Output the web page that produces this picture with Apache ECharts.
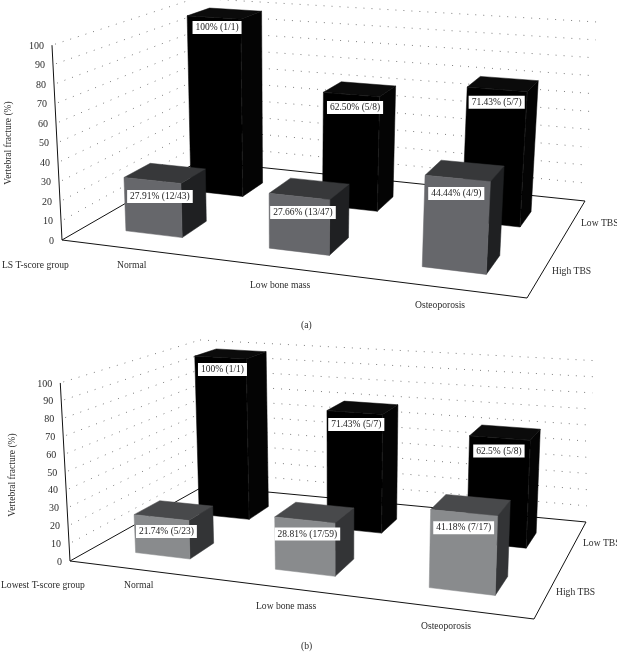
<!DOCTYPE html>
<html><head><meta charset="utf-8">
<style>html,body{margin:0;padding:0;background:#fff}#c{width:617px;height:652px}</style>
<script src="https://cdn.jsdelivr.net/npm/echarts@6/dist/echarts.min.js"></script>
</head><body><div id="c"></div>
<script>
const categories = ['Normal','Low bone mass','Osteoporosis'];
const rows = ['High TBS','Low TBS'];
const ticks = [0,10,20,30,40,50,60,70,80,90,100];
const highA = [27.91,27.66,44.44];
const lowA  = [100,62.5,71.43];
const highB = [21.74,28.81,41.18];
const lowB  = [100,71.43,62.5];
const highLabelsA = ['27.91% (12/43)','27.66% (13/47)','44.44% (4/9)'];
const lowLabelsA  = ['100% (1/1)','62.50% (5/8)','71.43% (5/7)'];
const highLabelsB = ['21.74% (5/23)','28.81% (17/59)','41.18% (7/17)'];
const lowLabelsB  = ['100% (1/1)','71.43% (5/7)','62.5% (5/8)'];

const FONT = '"Liberation Serif", serif';
function homography(q){
  const [p0,p1,p2,p3]=q;
  const dx1=p1[0]-p2[0],dx2=p3[0]-p2[0],sx=p0[0]-p1[0]+p2[0]-p3[0];
  const dy1=p1[1]-p2[1],dy2=p3[1]-p2[1],sy=p0[1]-p1[1]+p2[1]-p3[1];
  const den=dx1*dy2-dx2*dy1;
  const g=(sx*dy2-dx2*sy)/den,h=(dx1*sy-sx*dy1)/den;
  const a=p1[0]-p0[0]+g*p1[0],b=p3[0]-p0[0]+h*p3[0],c=p0[0];
  const d=p1[1]-p0[1]+g*p1[1],e=p3[1]-p0[1]+h*p3[1],f=p0[1];
  return (s,t)=>{const w=g*s+h*t+1;return [(a*s+b*t+c)/w,(d*s+e*t+f)/w];};
}
const panels=[
 {floor:[[62,240],[527,298],[585,201],[199,161]], k:0.405,yH:-241,vp:[288,4640],
  high:highA,low:lowA,hl:highLabelsA,ll:lowLabelsA,uShift:-0.012,
  faces:{front:'#66676b',top:'#37383a',side:'#1f2022'},
  grid:{left:10,top:0,width:300,height:300},
  hd:[[7.5,16],[3.5,16],[-1.5,15]], ld:[[3,10],[3.5,13],[-0.5,13]],
  texts:[['LS T-score group',2,265],['Normal',117,265],['Low bone mass',250,285],['Osteoporosis',415,305],['High TBS',552,271],['Low TBS',581,223],['(a)',301,325]],
  title:[8,143]},
 {floor:[[70,561],[534,619],[586,522],[204,486]], k:0.427,yH:144,vp:[340,5500],
  high:highB,low:lowB,hl:highLabelsB,ll:lowLabelsB,uShift:0.017,
  faces:{front:'#898b8d',top:'#48494b',side:'#333436'},
  grid:{left:10,top:330,width:300,height:300},
  hd:[[5,14],[2.5,14],[-0.5,15]], ld:[[2,12],[1.5,12],[-1,13]],
  texts:[['Lowest T-score group',1,585],['Normal',124,585],['Low bone mass',256,606],['Osteoporosis',421,626],['High TBS',556,592],['Low TBS',583,543],['(b)',301,646]],
  title:[12,475]}
];
const HW=0.2, HD=0.18;           // half footprint of a bar in category / row units
const ROWV=[0.48,1.44];
panels.forEach(p=>{
  const F=homography(p.floor);
  p.proj=(u,v,fr)=>{
    const a=F(u/3,v/2),h=p.k*(a[1]-p.yH)*fr;
    return [a[0]+(a[0]-p.vp[0])/(p.vp[1]-a[1])*h,a[1]-h];
  };
});
function frac(api,val){const y0=api.coord([0,0])[1],y1=api.coord([0,100])[1];return (y0-api.coord([0,val])[1])/(y0-y1);}
function uOf(api,cat,g){return 3*(api.coord([cat,0])[0]-g.left)/g.width;}
function poly(pts,fill,stroke){return {type:'polygon',shape:{points:pts},style:{fill:fill,stroke:stroke||fill,lineWidth:0.5}};}
function line(a,b,style){return {type:'line',shape:{x1:a[0],y1:a[1],x2:b[0],y2:b[1]},style:style};}

function wallSeries(p,i){
  return {type:'custom',xAxisIndex:i,yAxisIndex:i,silent:true,clip:false,z:1,data:ticks.map(t=>[0,t]),
    renderItem(params,api){
      const fr=frac(api,api.value(1)),ch=[],t=api.value(1);
      const a=p.proj(0,0,fr),b=p.proj(0,2,fr),c=p.proj(3,2,fr);
      const dot={stroke:'#7c7c7c',lineWidth:1,lineDash:[1,7],fill:null};
      ch.push({type:'text',style:{text:String(t),x:a[0]-8,y:a[1]+1,align:'right',verticalAlign:'middle',font:'10px '+FONT,fill:'#2b2b2b'}});
      if(t>0){ch.push(line([a[0]+3,a[1]-1],b,dot),line(b,c,dot));}
      return {type:'group',children:ch};
    }};
}
function frameSeries(p,i){
  return {type:'custom',xAxisIndex:i,yAxisIndex:i,silent:true,clip:false,z:2,data:[[0,0]],
    renderItem(params,api){
      const s={stroke:'#111',lineWidth:1,fill:null};
      const o=p.proj(0,0,0),fr=p.proj(3,0,0),br=p.proj(3,2,0),bl=p.proj(0,2,0),top=p.proj(0,0,frac(api,100));
      const ch=[poly([o,fr,br,bl],'#fff','#fff'),line(o,fr,s),line(fr,br,s),line(br,bl,s),line(bl,o,s),line(o,top,s)];
      p.texts.forEach(t=>ch.push({type:'text',style:{text:t[0],x:t[1],y:t[2],verticalAlign:'middle',font:'9.6px '+FONT,fill:'#2b2b2b'}}));
      ch.push({type:'text',x:p.title[0],y:p.title[1],rotation:Math.PI/2,style:{text:'Vertebral fracture (%)',align:'center',verticalAlign:'middle',font:'9.5px '+FONT,fill:'#2b2b2b'}});
      return {type:'group',children:ch};
    }};
}
function barSeries(p,i,vals,labels,row,faces,offs){
  return {type:'custom',xAxisIndex:i,yAxisIndex:i,silent:true,clip:false,z:4-row,
    data:vals.map((v,k)=>[k,v]),
    renderItem(params,api){
      const k=api.value(0),fr=frac(api,api.value(1)),u=uOf(api,k,p.grid)+p.uShift,v=ROWV[row];
      const u0=u-HW,u1=u+HW,v0=v-HD,v1=v+HD;
      const A=p.proj(u0,v0,0),B=p.proj(u1,v0,0),C=p.proj(u1,v1,0);
      const At=p.proj(u0,v0,fr),Bt=p.proj(u1,v0,fr),Ct=p.proj(u1,v1,fr),Dt=p.proj(u0,v1,fr);
      const mid=[(At[0]+Bt[0])/2,(At[1]+Bt[1])/2],o=offs[k];
      const ch=[poly([B,C,Ct,Bt],faces.side),poly([At,Bt,Ct,Dt],faces.top),poly([A,B,Bt,At],faces.front)];
      if(faces.edge){const e={stroke:faces.edge,lineWidth:0.7,lineDash:[9,9],fill:null};ch.push(line(B,Bt,e),line(At,Bt,e));}
      ch.push({type:'text',style:{text:labels[k],x:mid[0]+o[0],y:mid[1]+o[1],align:'center',verticalAlign:'middle',font:'9.5px '+FONT,fill:'#1a1a1a',backgroundColor:'#fff',padding:[2,3,1,3]}});
      return {type:'group',children:ch};
    }};
}
const black={front:'#000',top:'#0b0b0b',side:'#040404',edge:'#262626'};
const option={animation:false,
  grid:panels.map(p=>Object.assign({show:false},p.grid)),
  xAxis:panels.map((p,i)=>({gridIndex:i,type:'category',data:categories,show:false})),
  yAxis:panels.map((p,i)=>({gridIndex:i,type:'value',min:0,max:100,interval:10,show:false})),
  series:panels.flatMap((p,i)=>[
    frameSeries(p,i),wallSeries(p,i),
    barSeries(p,i,p.low,p.ll,1,black,p.ld),
    barSeries(p,i,p.high,p.hl,0,p.faces,p.hd)
  ])
};
echarts.init(document.getElementById('c'),null,{renderer:'canvas'}).setOption(option);
</script></body></html>
